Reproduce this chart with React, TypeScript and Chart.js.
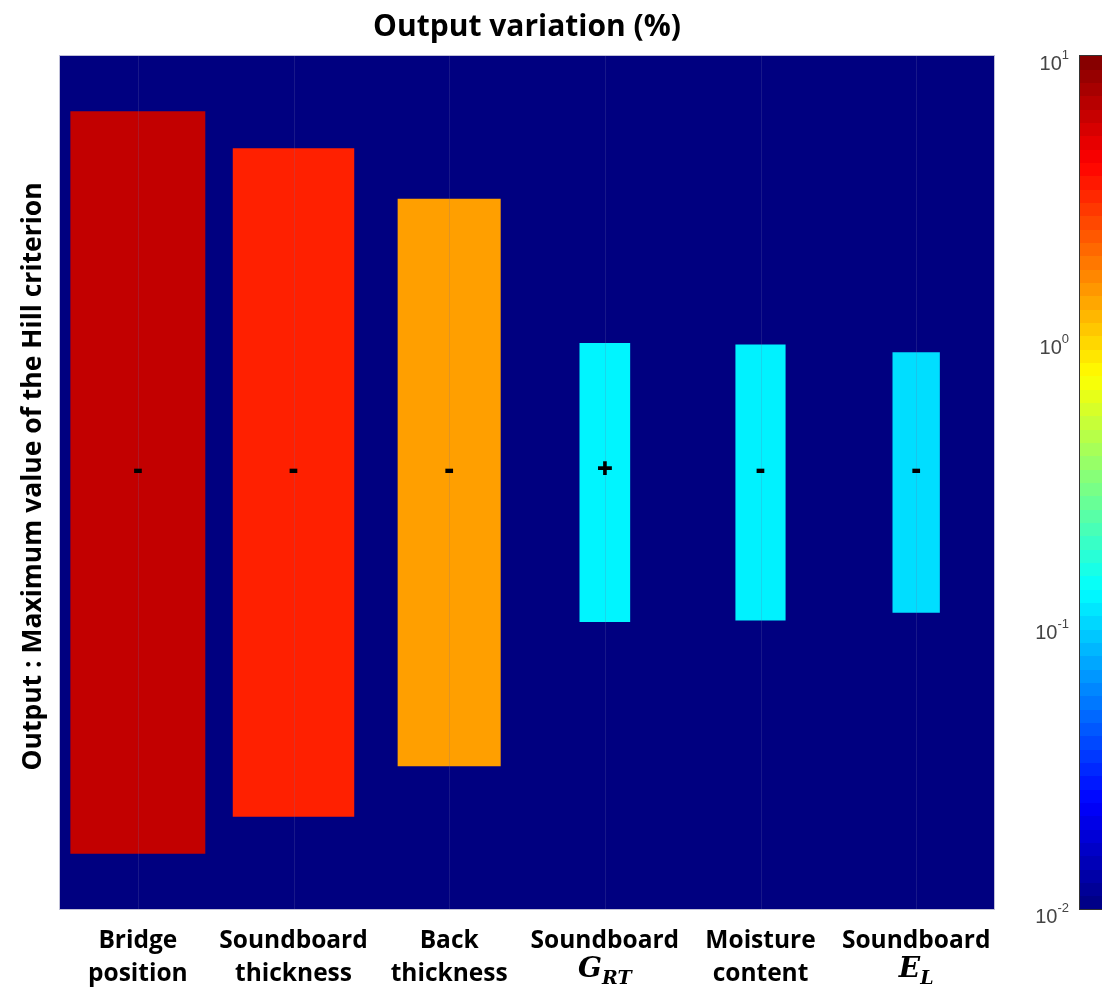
import React, { useEffect, useRef } from "react";
import { Chart, registerables } from "chart.js";

Chart.register(...registerables);

// ---- data ----
const CATEGORY_LINES: string[][] = [
  ["Bridge", "position"],
  ["Soundboard", "thickness"],
  ["Back", "thickness"],
  ["Soundboard", ""],
  ["Moisture", "content"],
  ["Soundboard", ""],
];
const MATH_LABELS: (string[] | null)[] = [null, null, null, ["G", "RT"], null, ["E", "L"]];
const VARIATION = [6.37, 3.4, 1.44, 0.125, 0.122, 0.107]; // Output variation (%)
const SIGNS = ["-", "-", "-", "+", "-", "-"];
const CB_MIN = 0.01;
const CB_MAX = 10;
const CB_EXPONENTS = [1, 0, -1, -2];

// extent of bars in decades above this floor
const LOG_FLOOR = -1.93;
const Y_HALF = 3.14;
const WIDTH_PER_DECADE = 0.317;

const FONT = "'Open Sans'";

function jet(t: number): string {
  t = Math.max(0, Math.min(1, t));
  const r = Math.max(0, Math.min(1, Math.min(4 * t - 1.5, -4 * t + 4.5)));
  const g = Math.max(0, Math.min(1, Math.min(4 * t - 0.5, -4 * t + 3.5)));
  const b = Math.max(0, Math.min(1, Math.min(4 * t + 0.5, -4 * t + 2.5)));
  return `rgb(${Math.round(r * 255)},${Math.round(g * 255)},${Math.round(b * 255)})`;
}
const cbT = (v: number) => (Math.log10(v) - Math.log10(CB_MIN)) / (Math.log10(CB_MAX) - Math.log10(CB_MIN));

const decorPlugin = {
  id: "decor",
  beforeDatasetsDraw(chart: any) {
    const { ctx, chartArea: a } = chart;
    ctx.save();
    ctx.fillStyle = "#000080";
    ctx.fillRect(a.left, a.top, a.right - a.left, a.bottom - a.top);
    ctx.restore();
  },
  afterDatasetsDraw(chart: any) {
    const { ctx, chartArea: a } = chart;
    const xs = chart.scales.x;
    const cb = chart.scales.cb;
    ctx.save();
    // faint grid lines at category centers
    ctx.strokeStyle = "rgba(110,110,170,0.22)";
    ctx.lineWidth = 1;
    CATEGORY_LINES.forEach((_, i) => {
      const x = Math.round(xs.getPixelForTick(i)) + 0.5;
      ctx.beginPath();
      ctx.moveTo(x, a.top);
      ctx.lineTo(x, a.bottom);
      ctx.stroke();
    });
    // plot border
    ctx.strokeStyle = "rgba(150,150,190,0.6)";
    ctx.strokeRect(a.left - 0.5, a.top - 0.5, a.right - a.left + 1, a.bottom - a.top + 1);

    // signs
    ctx.fillStyle = "#000";
    ctx.font = `800 28px ${FONT}`;
    ctx.textAlign = "center";
    ctx.textBaseline = "middle";
    const yc = chart.scales.y.getPixelForValue(0) - 12;
    SIGNS.forEach((s, i) => ctx.fillText(s, xs.getPixelForTick(i), yc));

    // title
    ctx.font = `bold 30px ${FONT}`;
    ctx.fillText("Output variation (%)", (a.left + a.right) / 2, 27);

    // y label
    ctx.save();
    ctx.translate(33, (a.top + a.bottom) / 2 - 6);
    ctx.rotate(-Math.PI / 2);
    ctx.font = `bold 26.5px ${FONT}`;
    ctx.fillText("Output : Maximum value of the Hill criterion", 0, 0);
    ctx.restore();

    // x labels
    CATEGORY_LINES.forEach((lines, i) => {
      const x = xs.getPixelForTick(i);
      ctx.font = `bold 24.5px ${FONT}`;
      ctx.fillStyle = "#000";
      ctx.textAlign = "center";
      ctx.fillText(lines[0], x, 941);
      const m = MATH_LABELS[i];
      if (m) {
        ctx.font = "bold italic 28px 'DejaVu Serif'";
        const w1 = ctx.measureText(m[0]).width;
        ctx.font = "bold italic 19px 'DejaVu Serif'";
        const w2 = ctx.measureText(m[1]).width;
        const start = x - (w1 + w2) / 2;
        ctx.textAlign = "left";
        ctx.font = "bold italic 28px 'DejaVu Serif'";
        ctx.fillText(m[0], start, 970);
        ctx.font = "bold italic 19px 'DejaVu Serif'";
        ctx.fillText(m[1], start + w1, 979);
        ctx.textAlign = "center";
      } else {
        ctx.fillText(lines[1], x, 974);
      }
    });

    // colorbar
    const cbLeft = 1080;
    const cbRight = 1110;
    const steps = 64;
    const top = cb.getPixelForValue(CB_MAX);
    const bottom = cb.getPixelForValue(CB_MIN);
    for (let k = 0; k < steps; k++) {
      const y0 = bottom - ((bottom - top) * (k + 1)) / steps;
      const y1 = bottom - ((bottom - top) * k) / steps;
      ctx.fillStyle = jet((k + 0.5) / steps);
      ctx.fillRect(cbLeft, Math.floor(y0), cbRight - cbLeft, Math.ceil(y1) - Math.floor(y0));
    }
    ctx.strokeStyle = "#333";
    ctx.lineWidth = 1;
    ctx.strokeRect(cbLeft - 0.5, top - 0.5, cbRight - cbLeft + 1, bottom - top + 1);

    // colorbar tick labels
    ctx.fillStyle = "#444";
    ctx.textBaseline = "alphabetic";
    CB_EXPONENTS.forEach((e) => {
      const y = cb.getPixelForValue(Math.pow(10, e)) + 14;
      const exp = String(e);
      ctx.font = "13px 'Liberation Sans'";
      const we = ctx.measureText(exp).width;
      ctx.textAlign = "left";
      const right = 1069;
      ctx.fillText(exp, right - we, y - 11);
      ctx.font = "20px 'Liberation Sans'";
      ctx.textAlign = "right";
      ctx.fillText("10", right - we, y);
    });
    ctx.restore();
  },
};

export default function App() {
  const ref = useRef<HTMLCanvasElement>(null);
  useEffect(() => {
    document.body.style.margin = "0";
    const datasets = VARIATION.map((v, i) => {
      const ext = Math.log10(v) - LOG_FLOOR;
      return {
        label: CATEGORY_LINES[i].join(" "),
        data: CATEGORY_LINES.map((_, j) => (j === i ? [-ext, ext] : null)),
        backgroundColor: jet(cbT(v)),
        borderWidth: 0,
        grouped: false,
        categoryPercentage: 1,
        barPercentage: WIDTH_PER_DECADE * ext,
      };
    });
    const chart = new Chart(ref.current!, {
      type: "bar",
      data: { labels: CATEGORY_LINES.map((l) => l.join(" ")), datasets: datasets as any },
      options: {
        animation: false,
        responsive: false,
        layout: { padding: { left: 60, right: 1102 - 994, top: 56, bottom: 993 - 909 } },
        plugins: { legend: { display: false }, tooltip: { enabled: false }, title: { display: false } },
        scales: {
          x: { type: "category", display: false, offset: true, grid: { display: false } },
          y: { type: "linear", display: false, min: -Y_HALF, max: Y_HALF },
          cb: { type: "logarithmic", display: false, min: CB_MIN, max: CB_MAX, axis: "y" } as any,
        },
      },
      plugins: [decorPlugin],
    });
    return () => chart.destroy();
  }, []);
  return <canvas ref={ref} width={1102} height={993} style={{ display: "block" }} />;
}
